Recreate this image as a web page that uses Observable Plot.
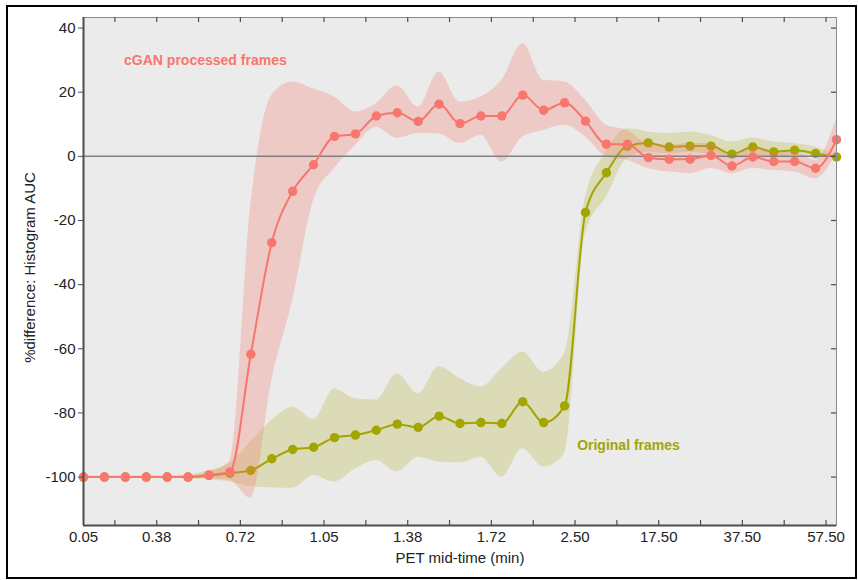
<!DOCTYPE html>
<html><head><meta charset="utf-8">
<script src="https://cdn.jsdelivr.net/npm/d3@7"></script>
<script src="https://cdn.jsdelivr.net/npm/@observablehq/plot@0.6"></script>
<style>
html,body{margin:0;padding:0;background:#fff;}
#wrap{position:relative;width:858px;height:580px;overflow:hidden;}
#border{position:absolute;left:6px;top:5px;width:851px;height:574px;box-sizing:border-box;border:2px solid #000;pointer-events:none;}
</style></head><body>
<div id="wrap"><div id="chart"></div><div id="border"></div></div>
<script>
// frame index (0..36), PET frames
const frameIndex = d3.range(37);

// cGAN processed frames: mean % difference and band
const cganMean = [-100,-100,-100,-100,-100,-100,-99.3,-98.4,-61.7,-26.9,-10.9,-2.6,6.2,7.0,12.6,13.6,10.9,16.3,10.2,12.6,12.6,19.1,14.4,16.7,11.0,3.8,3.8,-0.4,-0.9,-0.9,0.3,-3.0,-0.2,-1.6,-1.6,-3.7,5.2];
const cganHigh = [-99.7,-99.7,-99.7,-99.7,-99.7,-99.6,-98.5,-95,-15,19,23.2,21,18.5,13.8,16.5,22,15.4,26.3,16.9,18.5,23.7,35.1,23.7,23.2,17.5,9.7,8.1,4,3.4,4,4,-0.2,2.9,1.3,1.3,-1.2,11.8];
const cganLow  = [-100.3,-100.3,-100.3,-100.3,-100.3,-100.3,-100.5,-101,-106.6,-70,-45,-13.7,-3.8,3.4,9.1,5.6,7.1,7,4,6.5,-1.8,6,8.1,9.7,6,-0.2,-1.2,-3.8,-4.9,-5.4,-3.8,-5.4,-3.8,-4.4,-4.9,-7,0.8];

// Original frames
const origMean = [-100,-100,-100,-100,-100,-100,-99.5,-98.8,-97.9,-94.3,-91.4,-90.7,-87.7,-86.9,-85.4,-83.5,-84.5,-81,-83.3,-83,-83.3,-76.5,-83,-77.8,-17.5,-5.1,3.2,4.2,2.9,3.2,3.2,0.7,2.9,1.4,1.9,0.9,-0.2];
const origHigh = [-99.8,-99.8,-99.8,-99.8,-99.8,-99.3,-98,-95.7,-89,-82.3,-78.2,-82,-72.5,-75.6,-76,-67.8,-74,-65.5,-69.3,-71.9,-66.2,-61,-67.3,-61.5,-12.7,1.3,8.6,7.6,7.1,7.6,6.5,4.5,5.7,4.5,4,2.9,0.3];
const origLow  = [-100.2,-100.2,-100.2,-100.2,-100.2,-100.5,-100.8,-101.5,-103,-103.3,-103.5,-99.5,-101.5,-97.5,-94.8,-98.4,-93.8,-95.3,-95.6,-93.8,-100,-91.2,-96.9,-92.7,-24,-12.7,-0.7,1.3,0.8,1.3,0.6,-0.7,0.3,-0.2,0.3,-0.1,-0.7];

// axis ticks
const xLabelPos = [0,3.5,7.5,11.5,15.5,19.5,23.5,27.5,31.5,35.5];
const xLabels = ["0.05","0.38","0.72","1.05","1.38","1.72","2.50","17.50","37.50","57.50"];
const xTickPos = [1.5,3.5,5.5,7.5,9.5,11.5,13.5,15.5,17.5,19.5,21.5,23.5,25.5,27.5,29.5,31.5,33.5,35.5];
const yTicks = [-100,-80,-60,-40,-20,0,20,40];
const xDomain = [0,36];
const yDomain = [-115.1,43.3];

const annotations = [
  {x:1.94, y:29.9, text:"cGAN processed frames", series:"cgan"},
  {x:23.6, y:-90.1, text:"Original frames", series:"orig"}
];

const RED = "#F8766D", OLIVE = "#A3A500";

const rows = frameIndex.map((f,i)=>({i:f, cm:cganMean[i], ch:cganHigh[i], cl:cganLow[i], om:origMean[i], oh:origHigh[i], ol:origLow[i]}));
const labelMap = new Map(xLabelPos.map((p,i)=>[p,xLabels[i]]));

const W=858,H=580,ML=83,MR=22,MT=17,MB=55;
const PW=W-ML-MR, PH=H-MT-MB;

const chart = Plot.plot({
  width:W, height:H, marginLeft:ML, marginRight:MR, marginTop:MT, marginBottom:MB,
  style:{fontFamily:"'Liberation Sans', Arial, sans-serif", fontSize:"15px", color:"#222", background:"transparent", overflow:"visible"},
  x:{domain:xDomain},
  y:{domain:yDomain},
  marks:[
    Plot.frame({fill:"#ebebeb"}),
    Plot.areaY(rows,{x:"i", y1:"ol", y2:"oh", fill:OLIVE, fillOpacity:0.22, curve:"monotone-x"}),
    Plot.line(rows,{x:"i", y:"om", stroke:OLIVE, strokeWidth:2, curve:"monotone-x"}),
    Plot.dot(rows,{x:"i", y:"om", fill:OLIVE, r:4.7}),
    Plot.areaY(rows,{x:"i", y1:"cl", y2:"ch", fill:RED, fillOpacity:0.28, curve:"monotone-x"}),
    Plot.ruleY([0],{stroke:"#808080", strokeWidth:1.5}),
    Plot.line(rows,{x:"i", y:"cm", stroke:RED, strokeWidth:2, curve:"monotone-x"}),
    Plot.dot(rows,{x:"i", y:"cm", fill:RED, r:4.7}),
    Plot.text(annotations,{x:"x", y:"y", text:"text", fill:d=>d.series==="cgan"?RED:OLIVE, textAnchor:"start", fontWeight:"bold", fontSize:14}),
    Plot.frame({stroke:"#8c8c8c", strokeWidth:1}),
    Plot.ruleX([xDomain[0]],{stroke:"#4d4d4d", strokeWidth:2}),
    Plot.ruleY([yDomain[0]],{stroke:"#4d4d4d", strokeWidth:2}),
    Plot.ruleX(xTickPos,{insetTop:PH-5, stroke:"#4d4d4d", strokeWidth:1.2}),
    Plot.ruleX(xTickPos,{insetBottom:PH-5, stroke:"#4d4d4d", strokeWidth:1.2}),
    Plot.ruleY(yTicks,{insetLeft:PW-5, stroke:"#4d4d4d", strokeWidth:1.2}),
    Plot.axisY(yTicks,{tickSize:5, tickPadding:3, label:null, fontSize:15, stroke:"#4d4d4d", fill:"#222", tickFormat:d=>String(d)}),
    Plot.axisX(xLabelPos,{tickSize:0, tickPadding:6, label:null, fontSize:15, fill:"#222", tickFormat:d=>labelMap.get(d)}),
    Plot.text(["PET mid-time (min)"],{frameAnchor:"bottom", dy:37, fontSize:15, fill:"#222"}),
    Plot.text(["%difference: Histogram AUC"],{frameAnchor:"left", textAnchor:"middle", dx:-53, dy:-4, rotate:-90, fontSize:15, fill:"#222"})
  ]
});
document.getElementById("chart").appendChild(chart);
</script></body></html>
